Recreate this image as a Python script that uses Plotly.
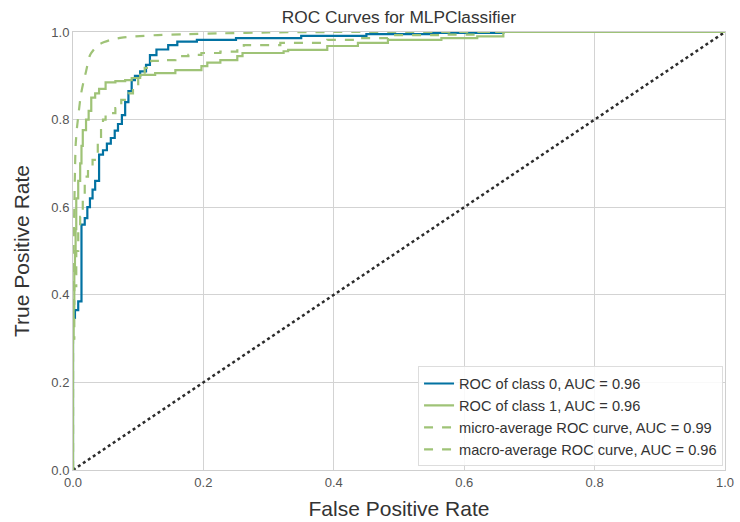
import plotly.graph_objects as go

# ROC curve points (false positive rate, true positive rate)
class0_fpr = [0.0, 0.0, 0.003, 0.008, 0.013, 0.018, 0.022, 0.026, 0.030, 0.034, 0.040,
              0.046, 0.052, 0.058, 0.064, 0.069, 0.075, 0.080, 0.085, 0.090, 0.095,
              0.103, 0.112, 0.118, 0.128, 0.146, 0.160, 0.190, 0.250, 0.350, 0.450,
              0.550, 0.660, 1.0]
class0_tpr = [0.0, 0.347, 0.365, 0.385, 0.56, 0.575, 0.60, 0.62, 0.64, 0.66, 0.72,
              0.73, 0.745, 0.758, 0.775, 0.79, 0.81, 0.84, 0.865, 0.89, 0.90,
              0.91, 0.925, 0.947, 0.96, 0.97, 0.978, 0.982, 0.986, 0.991, 0.995,
              0.998, 1.0, 1.0]

class1_fpr = [0.0, 0.0, 0.001, 0.002, 0.003, 0.004, 0.005, 0.008, 0.011, 0.013, 0.015,
              0.020, 0.024, 0.028, 0.034, 0.040, 0.050, 0.065, 0.080, 0.090, 0.103,
              0.126, 0.157, 0.197, 0.206, 0.226, 0.252, 0.260, 0.323, 0.330, 0.390,
              0.437, 0.483, 0.565, 0.620, 0.660, 1.0]
class1_tpr = [0.0, 0.30, 0.38, 0.45, 0.50, 0.55, 0.62, 0.66, 0.70, 0.74, 0.776,
              0.80, 0.82, 0.85, 0.86, 0.87, 0.885, 0.888, 0.89, 0.895, 0.902,
              0.906, 0.913, 0.922, 0.93, 0.936, 0.945, 0.952, 0.956, 0.959, 0.968,
              0.975, 0.982, 0.986, 0.99, 1.0, 1.0]

micro_fpr = [0.0, 0.0, 0.001, 0.002, 0.003, 0.004, 0.006, 0.009, 0.012, 0.016, 0.020,
             0.026, 0.032, 0.038, 0.048, 0.058, 0.075, 0.095, 0.130, 0.170, 0.230,
             0.300, 0.400, 1.0]
micro_tpr = [0.0, 0.35, 0.50, 0.60, 0.68, 0.74, 0.78, 0.82, 0.856, 0.885, 0.91,
             0.947, 0.96, 0.97, 0.977, 0.982, 0.987, 0.99, 0.993, 0.995, 0.997,
             0.999, 1.0, 1.0]

macro_fpr = [0.0, 0.0, 0.002, 0.005, 0.008, 0.011, 0.015, 0.018, 0.023, 0.030, 0.038,
             0.043, 0.046, 0.050, 0.065, 0.074, 0.085, 0.092, 0.100, 0.110, 0.120,
             0.135, 0.157, 0.177, 0.197, 0.226, 0.252, 0.262, 0.318, 0.390, 0.437,
             0.483, 0.565, 0.620, 1.0]
macro_tpr = [0.0, 0.30, 0.42, 0.50, 0.548, 0.578, 0.62, 0.67, 0.69, 0.708, 0.746,
             0.776, 0.80, 0.815, 0.826, 0.845, 0.86, 0.876, 0.895, 0.918, 0.934,
             0.936, 0.945, 0.948, 0.952, 0.955, 0.963, 0.97, 0.975, 0.982, 0.986,
             0.993, 0.994, 1.0, 1.0]

series_names = [
    "ROC of class 0, AUC = 0.96",
    "ROC of class 1, AUC = 0.96",
    "micro-average ROC curve, AUC = 0.99",
    "macro-average ROC curve, AUC = 0.96",
]

tick_vals = [0.0, 0.2, 0.4, 0.6, 0.8, 1.0]
tick_text = ["0.0", "0.2", "0.4", "0.6", "0.8", "1.0"]

BLUE = "#0272a2"
GREEN = "#9fc377"
FONT = "Liberation Sans, Arial, sans-serif"

fig = go.Figure()

# diagonal reference line (chance level)
fig.add_trace(go.Scatter(
    x=[0, 1], y=[0, 1], mode="lines", showlegend=False,
    line=dict(color="#2b2b2b", width=2.5, dash="dot"), hoverinfo="skip",
))

fig.add_trace(go.Scatter(
    x=class0_fpr, y=class0_tpr, mode="lines", name=series_names[0],
    line=dict(color=BLUE, width=2.2, shape="hv"),
))
fig.add_trace(go.Scatter(
    x=class1_fpr, y=class1_tpr, mode="lines", name=series_names[1],
    line=dict(color=GREEN, width=2.2, shape="hv"),
))
fig.add_trace(go.Scatter(
    x=micro_fpr, y=micro_tpr, mode="lines", name=series_names[2],
    line=dict(color=GREEN, width=2.2, dash="dash", shape="spline", smoothing=0.6),
))
fig.add_trace(go.Scatter(
    x=macro_fpr, y=macro_tpr, mode="lines", name=series_names[3],
    line=dict(color=GREEN, width=2.2, dash="dash", shape="hv"),
))

axis_common = dict(
    range=[0, 1],
    tickvals=tick_vals,
    ticktext=tick_text,
    showgrid=True,
    gridcolor="#d3d3d3",
    gridwidth=1,
    zeroline=False,
    showline=True,
    linecolor="#cfcfcf",
    linewidth=1,
    mirror=True,
    ticks="",
    tickfont=dict(family=FONT, size=13, color="#555555"),
    fixedrange=True,
    automargin=False,
)

fig.update_layout(
    autosize=True,
    margin=dict(l=73, r=15, t=32, b=52),
    paper_bgcolor="white",
    plot_bgcolor="white",
    font=dict(family=FONT, color="#333333"),
    title=dict(
        text="ROC Curves for MLPClassifier",
        x=0.539, xanchor="center", y=0.968, yanchor="middle",
        font=dict(family=FONT, size=17.3, color="#333333"),
    ),
    xaxis=dict(axis_common, title=dict(text="False Positive Rate",
                                       font=dict(family=FONT, size=21, color="#333333"),
                                       standoff=12)),
    yaxis=dict(axis_common, title=dict(text="True Positive Rate",
                                       font=dict(family=FONT, size=21, color="#333333"),
                                       standoff=15)),
    legend=dict(
        x=0.997, y=0.008, xanchor="right", yanchor="bottom",
        bgcolor="rgba(255,255,255,0.85)",
        bordercolor="#dddddd", borderwidth=1,
        font=dict(family=FONT, size=14.6, color="#333333"),
        tracegroupgap=0,
        itemwidth=30,
    ),
    showlegend=True,
)

fig.write_html("out.html", default_width="100%", default_height="100%")
